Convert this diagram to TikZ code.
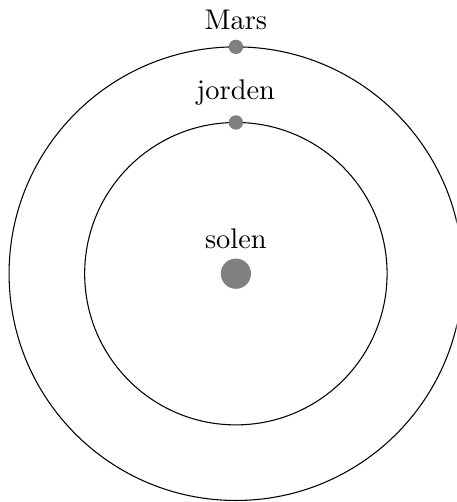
\documentclass[tikz,border=0pt]{standalone}
\begin{document}
\begin{tikzpicture}[every label/.style={font=\fontsize{10.7}{13}\selectfont}]
\tikzset{
  orbit/.style={draw=black, thin},
  planet/.style={circle, fill=gray, inner sep=0pt, minimum size=0.19cm},
  sun/.style={circle, fill=gray, inner sep=0pt, minimum size=0.4cm}
}
\useasboundingbox (-3.12,-3.02) rectangle (2.92,3.62);
\begin{scope}
\clip (-3.12,-3.02) rectangle (2.92,3.62);
\node[sun, label=above:solen] (sol) at (0,0) {};
\draw[orbit] (sol.center) circle (2cm);
\draw[orbit] (sol.center) circle (3cm);
\node[planet, label=above:jorden] (jord) at (0,2) {};
\node[planet, label=above:Mars] (mars) at (0,3) {};
\end{scope}
\end{tikzpicture}
\end{document}
